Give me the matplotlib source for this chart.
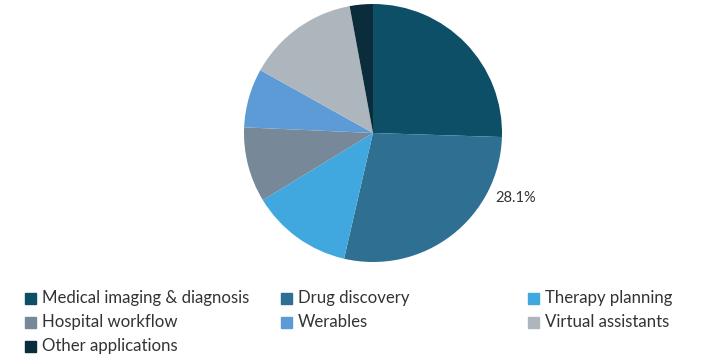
import matplotlib.pyplot as plt
from matplotlib.patches import Rectangle
import numpy as np

# Share of AI applications in healthcare (%)
categories = ['Medical imaging & diagnosis', 'Drug discovery', 'Therapy planning',
              'Hospital workflow', 'Werables', 'Virtual assistants', 'Other applications']
shares = [25.5, 28.1, 12.7, 9.4, 7.4, 14.0, 2.9]
colors = ['#0e4f68', '#2f6f91', '#40a8df', '#778899', '#5d9bd6', '#aeb6bd', '#0b2d3b']
label_text = '28.1%'

W, H = 728, 363
fig = plt.figure(figsize=(W / 100, H / 100), dpi=100)
plt.rcParams['font.family'] = ['Lato', 'DejaVu Sans']

# pie: center (373,133) px from top-left, radius 129 px
cx, cy, r = 373, 133, 129
ax = fig.add_axes([(cx - r) / W, (H - cy - r) / H, 2 * r / W, 2 * r / H])
ax.pie(shares, colors=colors, startangle=90, counterclock=False, radius=1,
       wedgeprops=dict(linewidth=0))
ax.set_xlim(-1, 1)
ax.set_ylim(-1, 1)
ax.set_aspect('equal')
ax.axis('off')
ax.text(0.945, -0.505, label_text, fontsize=10.5, color='#333333', ha='left', va='center')

# legend laid out by hand in three columns
col_x = [25, 281, 528]
row_y = [298, 322, 346]
for i, (name, c) in enumerate(zip(categories, colors)):
    x = col_x[i % 3]
    y = row_y[i // 3]
    fig.patches.append(Rectangle((x / W, (H - y - 5.5) / H), 11 / W, 11 / H,
                                 transform=fig.transFigure, color=c))
    fig.text((x + 17) / W, (H - y) / H, name, fontsize=12.1, color='#333333',
             ha='left', va='center')

fig.savefig('out.png', dpi=100)
